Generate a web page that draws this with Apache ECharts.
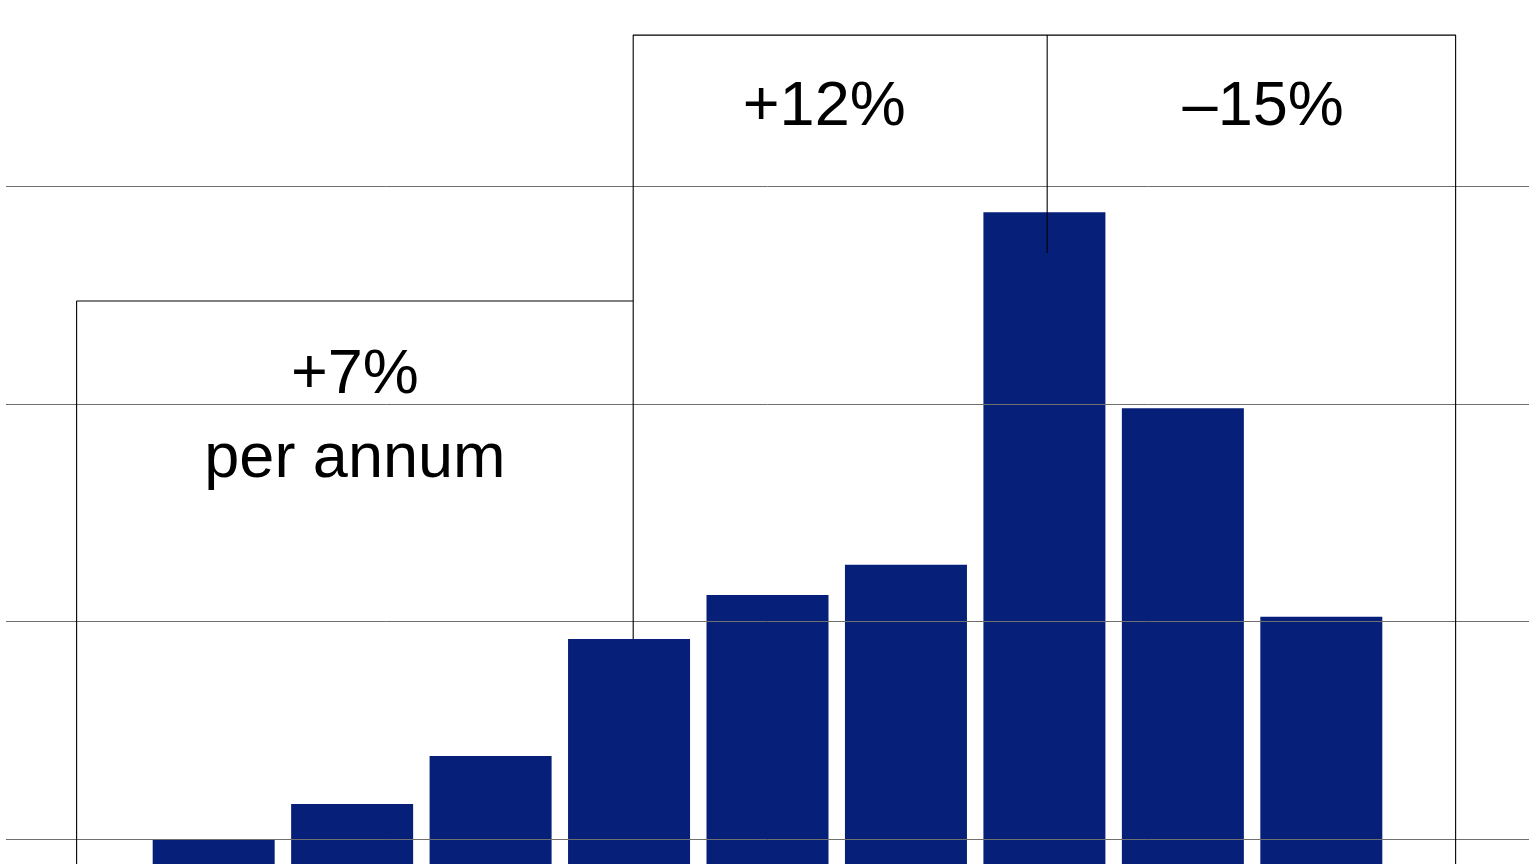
<!DOCTYPE html>
<html>
<head>
<meta charset="utf-8">
<script src="https://cdn.jsdelivr.net/npm/echarts@6/dist/echarts.min.js"></script>
<style>
  html, body { margin: 0; padding: 0; background: #ffffff; }
  #chart { width: 1536px; height: 864px; }
</style>
</head>
<body>
<div id="chart"></div>
<script>
// ---- data ----
const periods = ['P1', 'P2', 'P3', 'P4', 'P5', 'P6', 'P7', 'P8', 'P9'];
const barValues = [39.95, 41.61, 43.81, 49.19, 51.21, 52.61, 68.81, 59.80, 50.22];
const gridValues = [0, 10, 20, 30, 40, 50, 60, 70, 80];

// bracket annotation (in data coordinates: x = period index, y = value)
const bracketEdges = [-0.99, 3.03, 6.02, 8.97];
const bracketLowLevel = 64.73;
const bracketHighLevel = 76.95;
const bracketTickEnd = 66.93;
const bracketFloor = 0;

const growthLabels = ['+7%\nper annum', '+12%', '\u201315%'];
const growthLabelX = [1.02, 4.41, 7.58];
const growthLabelY = [59.37, 73.62, 73.62];

// ---- build ----
const barData = periods.map((p, i) => [i, barValues[i]]);

const bracketPaths = [
  [[bracketEdges[0], bracketFloor], [bracketEdges[0], bracketLowLevel], [bracketEdges[1], bracketLowLevel]],
  [[bracketEdges[1], barValues[3]], [bracketEdges[1], bracketHighLevel], [bracketEdges[3], bracketHighLevel], [bracketEdges[3], bracketFloor]],
  [[bracketEdges[2], bracketHighLevel], [bracketEdges[2], bracketTickEnd]]
];

const lineSeries = bracketPaths.map(path => ({
  type: 'line',
  data: path,
  symbol: 'none',
  clip: false,
  silent: true,
  z: 6,
  lineStyle: { color: '#000000', width: 1.1 },
  animation: false
}));

const labelSeries = {
  type: 'scatter',
  data: growthLabels.map((t, i) => ({ value: [growthLabelX[i], growthLabelY[i]], text: t })),
  symbolSize: 1,
  itemStyle: { color: 'rgba(255,255,255,0)' },
  silent: true,
  z: 7,
  animation: false,
  label: {
    show: true,
    position: 'inside',
    formatter: p => p.data.text,
    fontFamily: '"Liberation Sans", Arial, Helvetica, sans-serif',
    fontSize: 63,
    fontWeight: 'normal',
    color: '#000000',
    opacity: 1,
    textBorderWidth: 0,
    lineHeight: 84,
    align: 'center',
    verticalAlign: 'middle'
  }
};

const chart = echarts.init(document.getElementById('chart'), null, { renderer: 'canvas' });
chart.setOption({
  animation: false,
  backgroundColor: '#ffffff',
  grid: {
    left: 6,
    right: 7,
    top: -31.27,
    bottom: -845.3,
    containLabel: false,
    outerBoundsMode: 'none'
  },
  xAxis: {
    type: 'value',
    min: -1.5,
    max: 9.5,
    show: false
  },
  yAxis: {
    type: 'value',
    min: gridValues[0],
    max: gridValues[gridValues.length - 1],
    interval: 10,
    z: 4,
    axisLine: { show: false },
    axisTick: { show: false },
    axisLabel: { show: false },
    splitLine: { show: true, lineStyle: { color: '#6f6f6f', width: 1 } }
  },
  series: [
    {
      type: 'bar',
      data: barData,
      barWidth: 122,
      itemStyle: { color: '#061f78' },
      z: 2,
      animation: false
    },
    ...lineSeries,
    labelSeries
  ]
});
</script>
</body>
</html>
